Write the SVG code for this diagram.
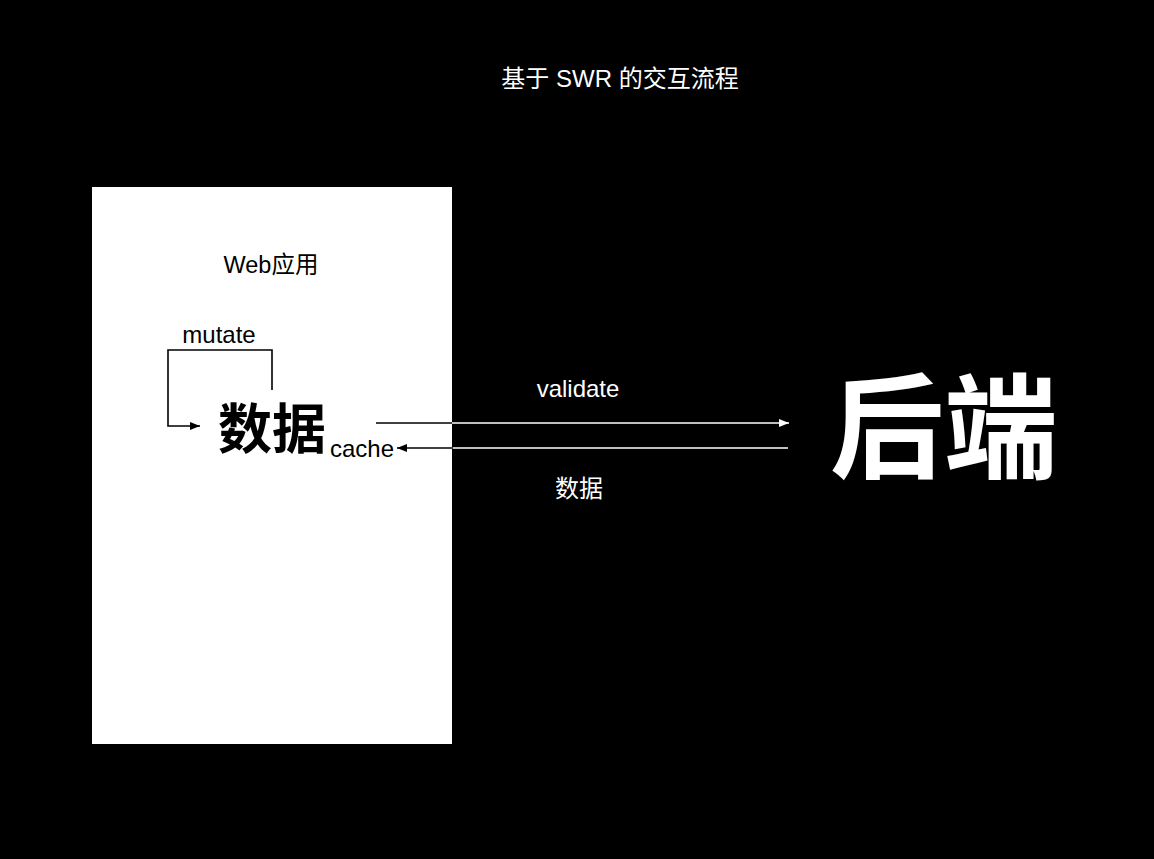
<svg xmlns="http://www.w3.org/2000/svg" width="1154" height="859" viewBox="0 0 1154 859">
<style>
text{font-family:"Liberation Sans","Noto Sans CJK SC",sans-serif}
.w{fill:#fff}.b{fill:#000}
.ls{stroke-width:1.6;fill:none}
</style>
<defs>
<marker id="aw" viewBox="0 0 10 10" refX="10" refY="5" markerWidth="10" markerHeight="10" markerUnits="userSpaceOnUse" orient="auto"><path d="M0,1 L10,5 L0,9 Z" fill="#fff"/></marker>
<marker id="ab" viewBox="0 0 10 10" refX="10" refY="5" markerWidth="10" markerHeight="10" markerUnits="userSpaceOnUse" orient="auto"><path d="M0,1 L10,5 L0,9 Z" fill="#000"/></marker>
</defs>
<rect width="1154" height="859" fill="#000"/>
<g id="title"><text x="620" y="87" text-anchor="middle" class="w" font-size="24">基于 SWR 的交互流程</text></g>
<g id="web-app">
<rect x="92" y="187" width="360" height="557" fill="#fff"/>
<text x="271" y="273" text-anchor="middle" class="b" font-size="23.5">Web应用</text>
</g>
<g id="data-node">
<text x="272" y="449" text-anchor="middle" class="b" font-size="54" font-weight="bold">数据</text>
<text x="330" y="457" class="b" font-size="24">cache</text>
</g>
<g id="backend"><text x="944" y="469" text-anchor="middle" class="w" font-size="114" font-weight="bold">后端</text></g>
<g id="connectors">
<path d="M272,390 V350 H168 V426 H200" class="ls" stroke="#000" marker-end="url(#ab)"/>
<text x="219" y="343" text-anchor="middle" class="b" font-size="24">mutate</text>
<line x1="376" y1="423" x2="452" y2="423" class="ls" stroke="#000"/>
<line x1="452" y1="423" x2="789" y2="423" class="ls" stroke="#fff" marker-end="url(#aw)"/>
<text x="578" y="397" text-anchor="middle" class="w" font-size="24">validate</text>
<line x1="788" y1="448" x2="452" y2="448" class="ls" stroke="#fff"/>
<line x1="453" y1="448" x2="397" y2="448" class="ls" stroke="#000" marker-end="url(#ab)"/>
<text x="579" y="497" text-anchor="middle" class="w" font-size="24">数据</text>
</g>
</svg>
